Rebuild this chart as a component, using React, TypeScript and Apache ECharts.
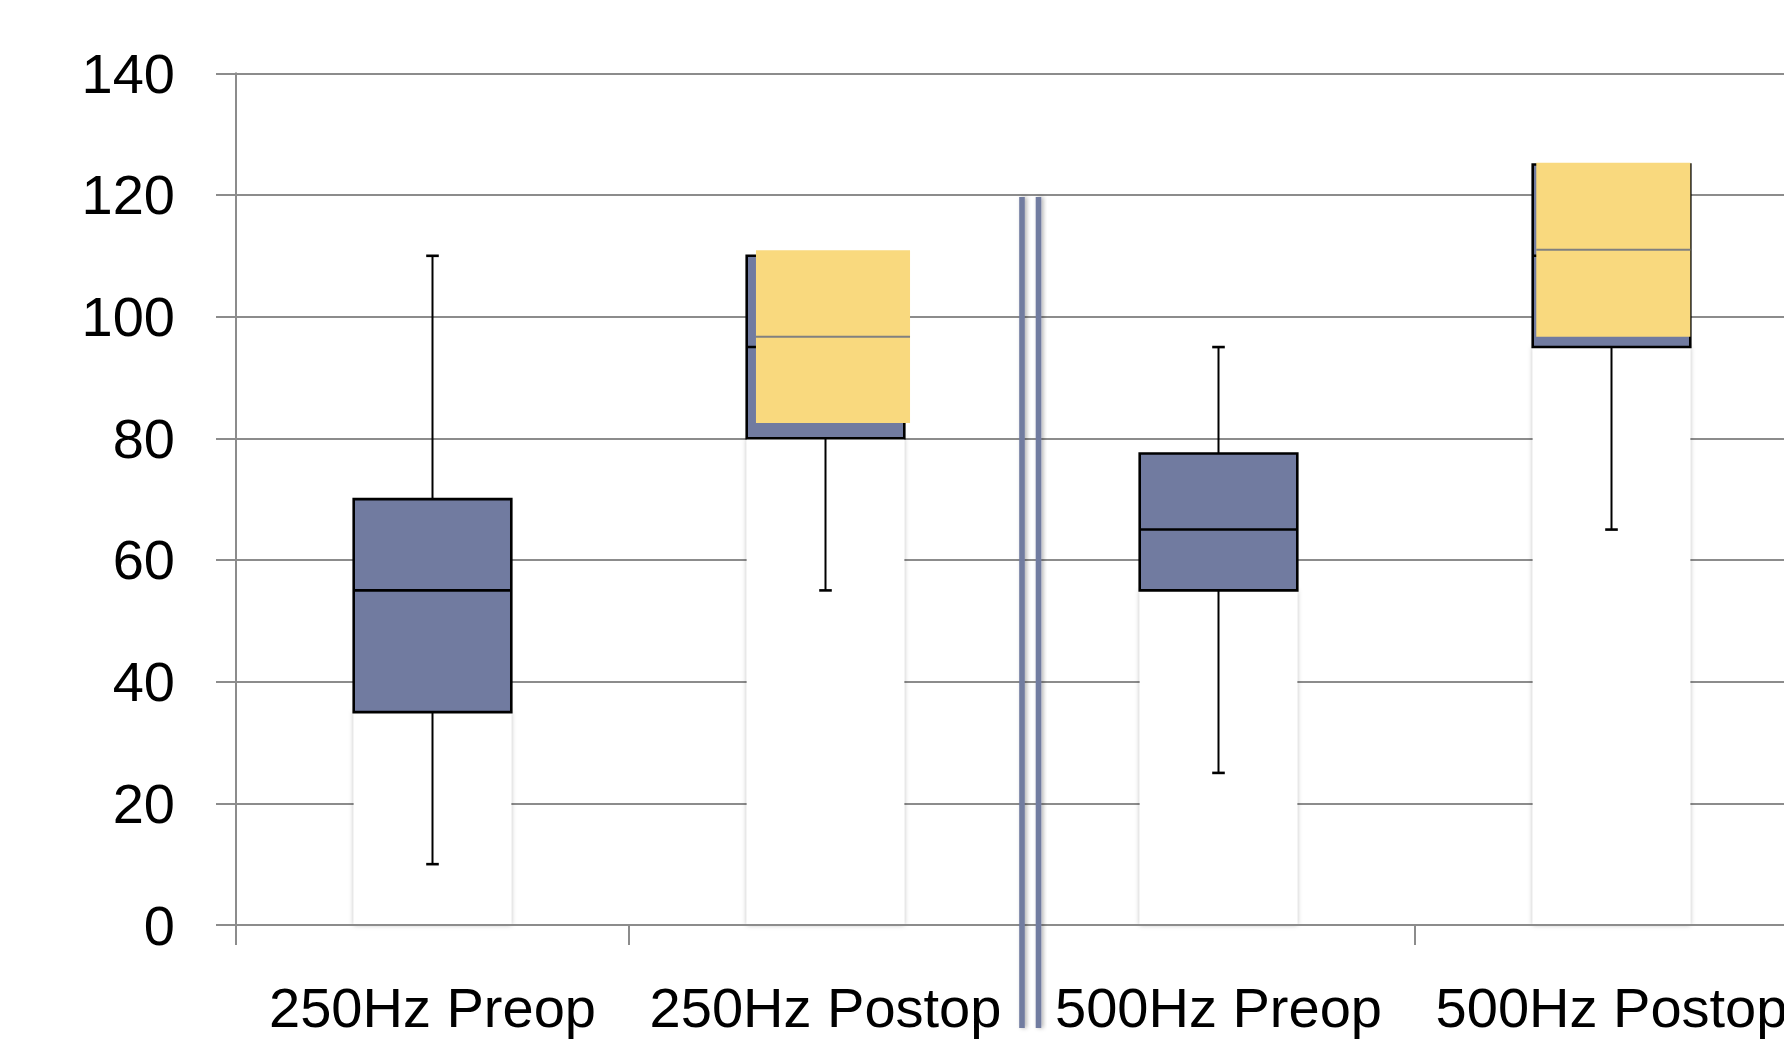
import React, { useEffect, useRef } from "react";
import * as echarts from "echarts";

// ---------- data ----------
const categories = ["250Hz Preop", "250Hz Postop", "500Hz Preop", "500Hz Postop"];
const whiskerLow = [10, 55, 25, 65];
const quartile1 = [35, 80, 55, 95];
const medians = [55, 95, 65, 110];
const quartile3 = [70, 110, 77.5, 125];
const whiskerHigh = [110, 110, 95, 125];

const overlayQ1 = [null, 82.5, null, 96.7];
const overlayMedian = [null, 96.7, null, 111];
const overlayQ3 = [null, 110.9, null, 125.3];

const yMin = 0;
const yMax = 140;
const yStep = 20;

const separatorAfterIndex = 1;
const separatorTopValue = 120;

// ---------- layout / style ----------
const BOX_RATIO = 0.401;
const OVERLAY_RATIO = 0.392;
const OVERLAY_SHIFT = [0, 7.5, 0, 1.8];
const CAP_W = 12.6;
const BLUE = "#717BA0";
const YELLOW = "#F9D97E";
const GRID_GRAY = "#8C8C8C";
const FONT = "Liberation Sans";

export default function App() {
  const ref = useRef<HTMLDivElement>(null);

  useEffect(() => {
    if (!ref.current) return;
    const chart = echarts.init(ref.current, undefined, { renderer: "svg" });

    const boxData = categories.map((_, i) => [
      i,
      whiskerLow[i],
      quartile1[i],
      medians[i],
      quartile3[i],
      whiskerHigh[i],
    ]);
    const overlayData = categories
      .map((_, i) => [i, overlayQ1[i], overlayMedian[i], overlayQ3[i]])
      .filter((d) => d[1] !== null);

    const option: any = {
      animation: false,
      backgroundColor: "#ffffff",
      textStyle: { fontFamily: FONT },
      grid: { left: 236, top: 73.3, width: 1572, height: 851.7, containLabel: false },
      xAxis: {
        type: "category",
        data: categories,
        boundaryGap: true,
        z: 3,
        axisLine: { show: true, lineStyle: { color: GRID_GRAY, width: 2 } },
        axisTick: { show: true, interval: 0, length: 20, lineStyle: { color: GRID_GRAY, width: 2 } },
        axisLabel: {
          interval: 0,
          margin: 54,
          fontSize: 56,
          color: "#000",
          fontFamily: FONT,
        },
        splitLine: { show: false },
      },
      yAxis: {
        type: "value",
        min: yMin,
        max: yMax,
        interval: yStep,
        axisLine: { show: true, lineStyle: { color: GRID_GRAY, width: 2 } },
        axisTick: { show: true, length: 20, lineStyle: { color: GRID_GRAY, width: 2 } },
        axisLabel: {
          margin: 61,
          fontSize: 56,
          color: "#000",
          fontFamily: FONT,
          padding: [0, 0, 6, 0],
        },
        splitLine: { show: true, lineStyle: { color: GRID_GRAY, width: 1.8 } },
      },
      series: [
        {
          type: "bar",
          name: "base",
          data: quartile1,
          barWidth: (BOX_RATIO * 100).toFixed(1) + "%",
          itemStyle: {
            color: "#ffffff",
            shadowBlur: 5,
            shadowColor: "rgba(0,0,0,0.28)",
          },
          silent: true,
          z: 2,
        },
        {
          type: "custom",
          name: "box",
          data: boxData,
          encode: { x: 0, y: [1, 2, 3, 4, 5] },
          z: 3,
          renderItem: (params: any, api: any) => {
            const i = api.value(0);
            const xc = api.coord([i, 0])[0];
            const band = api.size([1, 0])[0];
            const w = band * BOX_RATIO;
            const yLo = api.coord([i, api.value(1)])[1];
            const yQ1 = api.coord([i, api.value(2)])[1];
            const yMed = api.coord([i, api.value(3)])[1];
            const yQ3 = api.coord([i, api.value(4)])[1];
            const yHi = api.coord([i, api.value(5)])[1];
            const line = (x1: number, y1: number, x2: number, y2: number, lw: number) => ({
              type: "line",
              shape: { x1, y1, x2, y2 },
              style: { stroke: "#000", lineWidth: lw },
            });
            const children: any[] = [];
            if (yLo - yQ1 > 0.5) {
              children.push(line(xc, yQ1, xc, yLo, 2));
              children.push(line(xc - CAP_W / 2, yLo, xc + CAP_W / 2, yLo, 2.6));
            }
            if (yQ3 - yHi > 0.5) {
              children.push(line(xc, yHi, xc, yQ3, 2));
              children.push(line(xc - CAP_W / 2, yHi, xc + CAP_W / 2, yHi, 2.6));
            }
            children.push({
              type: "rect",
              shape: { x: xc - w / 2, y: yQ3, width: w, height: yQ1 - yQ3 },
              style: { fill: BLUE, stroke: "#000", lineWidth: 2.6 },
            });
            children.push(line(xc - w / 2, yMed, xc + w / 2, yMed, 2.6));
            return { type: "group", children };
          },
        },
        {
          type: "custom",
          name: "overlay",
          data: overlayData,
          encode: { x: 0, y: [1, 2, 3] },
          z: 4,
          renderItem: (params: any, api: any) => {
            const i = api.value(0);
            const band = api.size([1, 0])[0];
            const xc = api.coord([i, 0])[0] + OVERLAY_SHIFT[i];
            const w = band * OVERLAY_RATIO;
            const yQ1 = api.coord([i, api.value(1)])[1];
            const yMed = api.coord([i, api.value(2)])[1];
            const yQ3 = api.coord([i, api.value(3)])[1];
            return {
              type: "group",
              children: [
                {
                  type: "rect",
                  shape: { x: xc - w / 2, y: yQ3, width: w, height: yQ1 - yQ3 },
                  style: { fill: YELLOW },
                },
                {
                  type: "line",
                  shape: { x1: xc - w / 2, y1: yMed, x2: xc + w / 2, y2: yMed },
                  style: { stroke: "#808080", lineWidth: 2 },
                },
              ],
            };
          },
        },
        {
          type: "custom",
          name: "separator",
          data: [[separatorAfterIndex, separatorTopValue]],
          encode: { x: 0, y: 1 },
          z: 5,
          renderItem: (params: any, api: any) => {
            const i = api.value(0);
            const band = api.size([1, 0])[0];
            const xb = api.coord([i, 0])[0] + band / 2;
            const yTop = api.coord([i, api.value(1)])[1] + 2;
            const yBottom = api.coord([i, 0])[1] + 103;
            const mk = (x: number) => ({
              type: "rect",
              shape: { x: x - 2.8, y: yTop, width: 5.6, height: yBottom - yTop },
              style: {
                fill: BLUE,
                shadowBlur: 4,
                shadowOffsetX: 2,
                shadowColor: "rgba(0,0,0,0.3)",
              },
            });
            return { type: "group", children: [mk(xb), mk(xb + 16.5)] };
          },
        },
      ],
    };

    chart.setOption(option);
    return () => chart.dispose();
  }, []);

  return (
    <div
      style={{
        position: "absolute",
        left: 0,
        top: 0,
        width: 1784,
        height: 1040,
        overflow: "hidden",
        background: "#fff",
      }}
    >
      <div ref={ref} style={{ width: 1840, height: 1040 }} />
    </div>
  );
}
